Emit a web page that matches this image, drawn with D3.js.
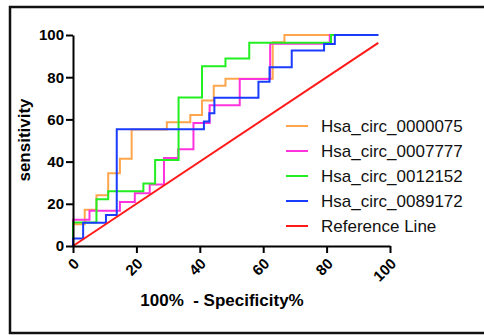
<!DOCTYPE html>
<html>
<head>
<meta charset="utf-8">
<script src="https://cdn.jsdelivr.net/npm/d3@7"></script>
<style>
  body { margin: 0; background: #fff; }
  text { font-family: "Liberation Sans", Arial, sans-serif; }
</style>
</head>
<body>
<div id="roc"></div>
<script>
// 100% - specificity (x) and sensitivity (y) at each step of the curves
let x_0000075 = [0, 0, 3.7, 7.4, 11.1, 14.8, 18.5, 29.6, 37.0, 40.7, 44.4, 48.1, 63.0, 66.7, 96.3];
let y_0000075 = [0, 10.3, 17.2, 24.1, 34.5, 41.4, 55.2, 58.6, 62.1, 69.0, 75.9, 79.3, 96.6, 100, 100];

let x_0007777 = [0, 0, 5.2, 14.8, 19.5, 24.2, 28.7, 33.2, 38.0, 43.1, 52.6, 62.2, 81.0, 96.3];
let y_0007777 = [0, 12.5, 16.7, 20.8, 25.0, 29.2, 41.7, 45.8, 58.3, 66.7, 79.2, 95.8, 100, 100];

let x_0012152 = [0, 0, 7.4, 11.1, 22.2, 25.9, 33.3, 40.7, 48.1, 55.6, 81.4, 96.3];
let y_0012152 = [0, 11.1, 22.2, 25.9, 29.6, 40.7, 70.4, 85.2, 88.9, 96.3, 100, 100];

let x_0089172 = [0, 0, 3.2, 10.4, 13.8, 41.3, 43.0, 44.6, 58.5, 62.0, 69.0, 79.2, 82.6, 96.3];
let y_0089172 = [0, 3.6, 11.0, 14.7, 55.3, 59.0, 62.9, 70.3, 77.9, 84.7, 92.6, 95.7, 100, 100];

let x_ref = [0, 96.3];
let y_ref = [0, 96.3];

let seriesNames = ["Hsa_circ_0000075", "Hsa_circ_0007777", "Hsa_circ_0012152", "Hsa_circ_0089172", "Reference Line"];
let seriesColors = ["#ffa64d", "#ff33dd", "#22ee22", "#1a3cff", "#ff1a1a"];
let tickValues = [0, 20, 40, 60, 80, 100];

let screen = {width: 484, height: 335};
let plot = {left: 73, right: 390, top: 35, bottom: 246};

let xScale = d3.scaleLinear().domain([0, 100]).range([plot.left, plot.right]);
let yScale = d3.scaleLinear().domain([0, 100]).range([plot.bottom, plot.top]);

let zipPts = function(xs, ys) {
    return xs.map(function(d, i) { return [d, ys[i]]; });
};

let curves = [
    zipPts(x_0000075, y_0000075),
    zipPts(x_0007777, y_0007777),
    zipPts(x_0012152, y_0012152),
    zipPts(x_0089172, y_0089172)
];
let refLine = zipPts(x_ref, y_ref);

let svg = d3.select("#roc")
    .append("svg")
    .attr("width", screen.width)
    .attr("height", screen.height);

// outer frame
svg.append("rect")
    .attr("x", 10).attr("y", 7)
    .attr("width", 490).attr("height", 326)
    .attr("fill", "none")
    .attr("stroke", "#111")
    .attr("stroke-width", 2.5);

let stepLine = d3.line()
    .x(function(d) { return xScale(d[0]); })
    .y(function(d) { return yScale(d[1]); })
    .curve(d3.curveStepAfter);

let straight = d3.line()
    .x(function(d) { return xScale(d[0]); })
    .y(function(d) { return yScale(d[1]); });

svg.append("g").selectAll("path")
    .data(curves)
    .enter()
    .append("path")
    .attr("d", stepLine)
    .attr("fill", "none")
    .attr("stroke", function(d, i) { return seriesColors[i]; })
    .attr("stroke-width", 2);

svg.append("path")
    .datum(refLine)
    .attr("d", straight)
    .attr("fill", "none")
    .attr("stroke", seriesColors[4])
    .attr("stroke-width", 2);

// axes
let xAxis = svg.append("g")
    .attr("transform", "translate(0," + plot.bottom + ")")
    .call(d3.axisBottom(xScale).tickValues(tickValues).tickSize(7).tickSizeOuter(0));
let yAxis = svg.append("g")
    .attr("transform", "translate(" + plot.left + ",0)")
    .call(d3.axisLeft(yScale).tickValues(tickValues).tickSize(7).tickSizeOuter(0).tickPadding(2));

[xAxis, yAxis].forEach(function(ax) {
    ax.select(".domain").attr("stroke", "#000").attr("stroke-width", 2);
    ax.selectAll(".tick line").attr("stroke", "#000").attr("stroke-width", 2);
    ax.selectAll("text")
        .attr("fill", "#000")
        .style("font-size", "15px")
        .style("font-weight", "bold")
        .style("font-family", "'Liberation Sans', Arial, sans-serif");
});

xAxis.selectAll(".tick text")
    .attr("x", 0).attr("y", 0).attr("dy", "0.35em")
    .attr("text-anchor", "end")
    .attr("transform", "translate(3,15) rotate(-45)");

// axis titles
svg.append("text")
    .attr("x", 222).attr("y", 306)
    .attr("text-anchor", "middle")
    .style("font-size", "17px")
    .style("font-weight", "bold")
    .style("white-space", "pre")
    .text("100%  - Specificity%");

svg.append("text")
    .attr("transform", "translate(30,140) rotate(-90)")
    .attr("text-anchor", "middle")
    .style("font-size", "17px")
    .style("font-weight", "bold")
    .text("sensitivity");

// legend
let legend = svg.append("g").selectAll("g")
    .data(seriesNames)
    .enter()
    .append("g")
    .attr("transform", function(d, i) { return "translate(286," + (126 + i * 25) + ")"; });

legend.append("line")
    .attr("x1", 0).attr("x2", 22)
    .attr("stroke", function(d, i) { return seriesColors[i]; })
    .attr("stroke-width", 2);

legend.append("text")
    .attr("x", 35).attr("dy", "0.35em")
    .style("font-size", "17px")
    .attr("fill", "#111")
    .text(function(d) { return d; });
</script>
</body>
</html>
